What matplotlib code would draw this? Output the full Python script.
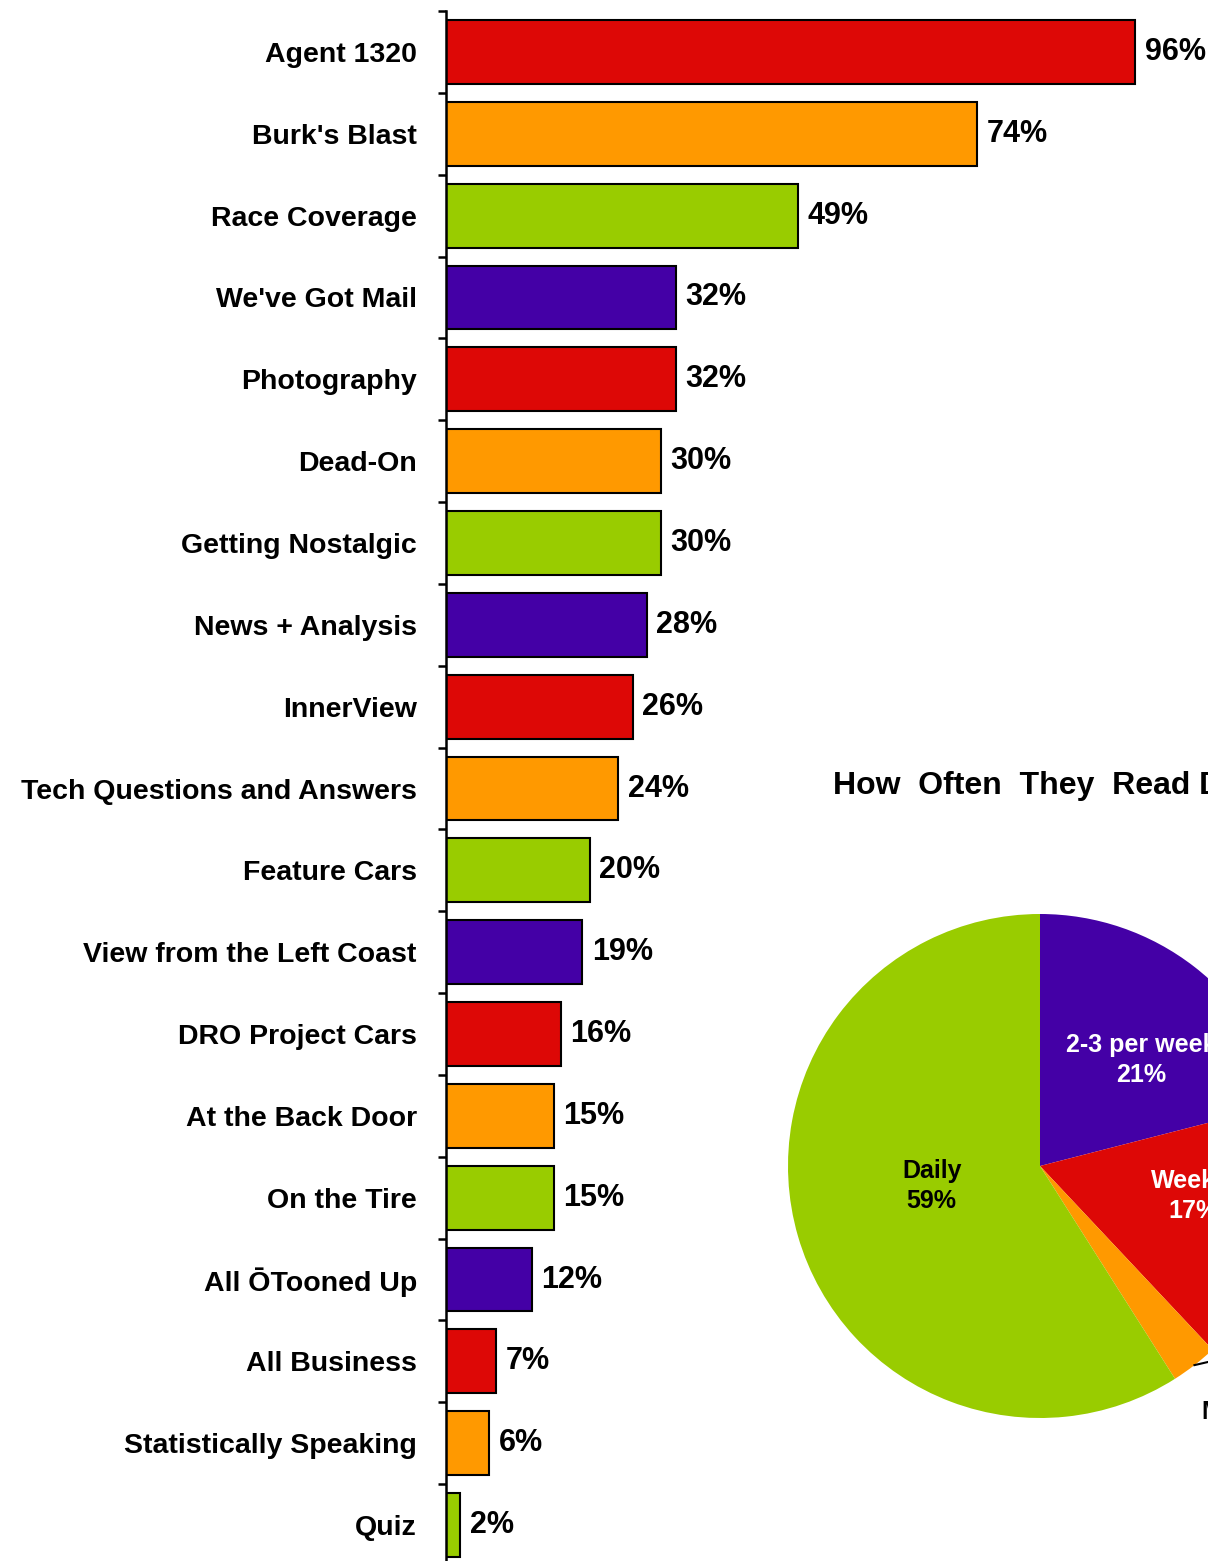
import matplotlib
matplotlib.use("Agg")
import matplotlib.pyplot as plt
import numpy as np

plt.rcParams['font.family'] = ['Liberation Sans', 'DejaVu Sans']
plt.rcParams['font.weight'] = 'bold'

# features read, percent of readers
features = ["Agent 1320", "Burk's Blast", "Race Coverage", "We've Got Mail",
            "Photography", "Dead-On", "Getting Nostalgic", "News + Analysis",
            "InnerView", "Tech Questions and Answers", "Feature Cars",
            "View from the Left Coast", "DRO Project Cars", "At the Back Door",
            "On the Tire", "All \u014cTooned Up", "All Business",
            "Statistically Speaking", "Quiz"]
pct = [96, 74, 49, 32, 32, 30, 30, 28, 26, 24, 20, 19, 16, 15, 15, 12, 7, 6, 2]

# reading frequency
freq_labels = ["2-3 per week", "Weekly", "Monthly", "Daily"]
freq_pct = [21, 17, 3, 59]

red, orange, green, purple = '#dd0806', '#ff9900', '#99cc00', '#4400a6'
bar_colors = [red, orange, green, purple]
freq_colors = [purple, red, orange, green]

W, H = 1208, 1561
fig = plt.figure(figsize=(W / 100, H / 100), dpi=100)

# ---- bar chart
ax = fig.add_axes([446 / W, 1 - 1566 / H, 762 / W, 1555 / H])
y = np.arange(len(features))
cols = [bar_colors[i % 4] for i in range(len(features))]
ax.barh(y, pct, height=0.78, color=cols, edgecolor='black', linewidth=1.5)
for yi, v in zip(y, pct):
    ax.text(v + 1.3, yi, f"{v}%", va='center', ha='left', fontsize=22,
            fontweight='bold')

ax.set_xlim(0, 762 / 7.18)
ax.set_ylim(len(features) - 0.5, -0.5)
ax.set_yticks(np.arange(len(features) + 1) - 0.5)
ax.set_yticklabels([])
ax.set_yticks(y, minor=True)
ax.set_yticklabels(features, minor=True, fontsize=20.5, fontweight='bold')
ax.tick_params(axis='y', which='major', length=6, width=1.8, direction='out')
ax.tick_params(axis='y', which='minor', length=0, pad=21)
ax.set_xticks([])
for s in ['top', 'right', 'bottom']:
    ax.spines[s].set_visible(False)
ax.spines['left'].set_linewidth(1.8)

# ---- pie chart
R = 252
pax = fig.add_axes([(1040 - R) / W, (H - 1166 - R) / H, 2 * R / W, 2 * R / H])
wedges, _ = pax.pie(freq_pct, colors=freq_colors, startangle=90,
                    counterclock=False, radius=1)
pax.set_xlim(-1, 1)
pax.set_ylim(-1, 1)
pax.axis('off')

label_pos = [(0.40, 0.42), (0.61, -0.12), (0.64, -0.93), (-0.43, -0.08)]
label_col = ['white', 'white', 'black', 'black']
for i, (lab, v) in enumerate(zip(freq_labels, freq_pct)):
    x0, y0 = label_pos[i]
    if lab == "Monthly":
        w = wedges[i]
        mid = np.deg2rad((w.theta1 + w.theta2) / 2)
        pax.plot([np.cos(mid) * 1.0, 0.70], [np.sin(mid) * 1.0, -0.77],
                 color='black', lw=1.5, clip_on=False)
        pax.text(x0, y0, f"{lab}\n{v}%", ha='left', va='top', fontsize=18,
                 fontweight='bold', color=label_col[i], multialignment='center',
                 linespacing=1.3)
    else:
        pax.text(x0, y0, f"{lab}\n{v}%", ha='center', va='center', fontsize=18,
                 fontweight='bold', color=label_col[i], linespacing=1.3)

fig.text(833 / W, 1 - 786 / H, "How  Often  They  Read DRO", ha='left',
         va='center', fontsize=23, fontweight='bold')

fig.savefig("out.png", dpi=100)
